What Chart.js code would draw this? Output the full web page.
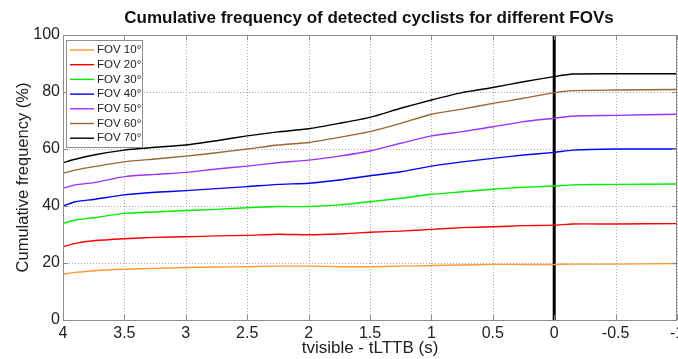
<!DOCTYPE html>
<html>
<head>
<meta charset="utf-8">
<script src="https://cdn.jsdelivr.net/npm/chart.js@4"></script>
<style>
	html, body { margin: 0; padding: 0; background: #fff; }
	#wrap { width: 678px; height: 359px; }
</style>
</head>
<body>
<div id="wrap"><canvas id="fovChart" width="678" height="359"></canvas></div>
<script>
const timeSteps = [4, 3.9, 3.75, 3.5, 3.25, 3, 2.75, 2.5, 2.25, 2, 1.75, 1.5, 1.25, 1, 0.75, 0.5, 0.25, 0, -0.15, -0.5, -1];

const fov10 = [16.1, 16.7, 17.3, 17.8, 18.1, 18.4, 18.6, 18.7, 18.9, 18.9, 18.7, 18.7, 18.9, 19.1, 19.3, 19.5, 19.5, 19.5, 19.6, 19.6, 19.8];
const fov20 = [25.7, 26.9, 27.8, 28.5, 29.0, 29.2, 29.5, 29.7, 30.1, 29.9, 30.2, 30.8, 31.2, 31.8, 32.4, 32.7, 33.1, 33.3, 33.7, 33.7, 33.8];
const fov30 = [33.9, 35.1, 35.9, 37.4, 37.9, 38.4, 38.8, 39.4, 39.8, 39.8, 40.4, 41.5, 42.7, 44.1, 45.0, 45.9, 46.6, 47.0, 47.4, 47.6, 47.7];
const fov40 = [40.0, 41.5, 42.3, 43.9, 44.8, 45.4, 46.1, 46.8, 47.6, 48.0, 49.1, 50.6, 52.0, 54.0, 55.5, 56.7, 57.9, 58.8, 59.6, 60.0, 60.0];
const fov50 = [46.2, 47.4, 48.2, 50.3, 51.1, 51.8, 53.0, 54.0, 55.2, 56.1, 57.5, 59.3, 62.0, 64.6, 66.1, 67.8, 69.6, 70.8, 71.6, 71.8, 72.2];
const fov60 = [51.5, 52.6, 53.8, 55.5, 56.5, 57.5, 58.7, 60.0, 61.4, 62.3, 64.1, 66.1, 69.0, 72.2, 74.0, 76.0, 77.8, 79.8, 80.5, 80.7, 80.9];
const fov70 = [55.2, 56.4, 57.9, 59.6, 60.6, 61.4, 62.9, 64.6, 66.0, 67.1, 69.0, 71.1, 74.3, 77.2, 79.8, 81.6, 83.6, 85.4, 86.3, 86.4, 86.4];

const seriesLabels = ["FOV 10°", "FOV 20°", "FOV 30°", "FOV 40°", "FOV 50°", "FOV 60°", "FOV 70°"];
const seriesColors = ["#ff9933", "#ff0000", "#00ee00", "#0000ff", "#9933ff", "#996633", "#000000"];
const seriesValues = [fov10, fov20, fov30, fov40, fov50, fov60, fov70];

const markerX = [0, 0];
const markerY = [0, 100];

const xTicks = [4, 3.5, 3, 2.5, 2, 1.5, 1, 0.5, 0, -0.5, -1];
const yTicks = [0, 20, 40, 60, 80, 100];

const FONT = "'Liberation Sans', Arial, sans-serif";

const datasets = seriesValues.map((vals, i) => ({
	label: seriesLabels[i],
	data: timeSteps.map((t, j) => ({ x: t, y: vals[j] })),
	borderColor: seriesColors[i],
	borderWidth: 1.4,
	pointRadius: 0,
	tension: 0.2,
	fill: false,
}));

datasets.push({
	label: "t0",
	data: markerX.map((x, j) => ({ x: x, y: markerY[j] })),
	borderColor: "#000000",
	borderWidth: 3,
	pointRadius: 0,
});

// dotted grid, MATLAB style
const gridPlugin = {
	id: "dotGrid",
	beforeDatasetsDraw(chart) {
		const { ctx, chartArea: a, scales } = chart;
		ctx.save();
		ctx.strokeStyle = "#a8a8a8";
		ctx.lineWidth = 1;
		ctx.setLineDash([1, 2]);
		ctx.beginPath();
		xTicks.forEach((v) => {
			const px = Math.round(scales.x.getPixelForValue(v)) + 0.5;
			ctx.moveTo(px, a.top);
			ctx.lineTo(px, a.bottom);
		});
		yTicks.forEach((v) => {
			const py = Math.round(scales.y.getPixelForValue(v)) + 0.5;
			ctx.moveTo(a.left, py);
			ctx.lineTo(a.right, py);
		});
		ctx.stroke();
		ctx.restore();
	},
};

// frame, inward ticks and the legend box
const framePlugin = {
	id: "frame",
	afterDatasetsDraw(chart) {
		const { ctx, chartArea: a, scales } = chart;
		ctx.save();
		ctx.strokeStyle = "#8c8c8c";
		ctx.lineWidth = 1;
		ctx.strokeRect(a.left + 0.5, a.top + 0.5, a.right - a.left - 1, a.bottom - a.top);

		ctx.beginPath();
		xTicks.forEach((v) => {
			const px = Math.round(scales.x.getPixelForValue(v)) + 0.5;
			ctx.moveTo(px, a.top);
			ctx.lineTo(px, a.top + 5);
			ctx.moveTo(px, a.bottom);
			ctx.lineTo(px, a.bottom - 5);
		});
		yTicks.forEach((v) => {
			const py = Math.round(scales.y.getPixelForValue(v)) + 0.5;
			ctx.moveTo(a.left, py);
			ctx.lineTo(a.left + 5, py);
			ctx.moveTo(a.right, py);
			ctx.lineTo(a.right - 5, py);
		});
		ctx.stroke();

		const bx = 66, by = 40, bw = 76, bh = 107;
		ctx.fillStyle = "#ffffff";
		ctx.fillRect(bx, by, bw, bh);
		ctx.strokeStyle = "#8c8c8c";
		ctx.strokeRect(bx + 0.5, by + 0.5, bw, bh);
		ctx.font = "11.5px " + FONT;
		ctx.textBaseline = "middle";
		seriesLabels.forEach((lab, i) => {
			const y = by + 10 + i * 14.7;
			ctx.strokeStyle = seriesColors[i];
			ctx.lineWidth = 1.4;
			ctx.beginPath();
			ctx.moveTo(70, y);
			ctx.lineTo(94, y);
			ctx.stroke();
			ctx.fillStyle = "#222";
			ctx.fillText(lab, 97, y);
		});
		ctx.restore();
	},
};

const titlePlugin = {
	id: "topTitle",
	afterDraw(chart) {
		const ctx = chart.ctx;
		ctx.save();
		ctx.font = "bold 17px " + FONT;
		ctx.fillStyle = "#111";
		ctx.textAlign = "center";
		ctx.textBaseline = "middle";
		ctx.fillText("Cumulative frequency of detected cyclists for different FOVs", 369, 18);
		ctx.restore();
	},
};

new Chart(document.getElementById("fovChart"), {
	type: "line",
	data: { datasets: datasets },
	plugins: [gridPlugin, framePlugin, titlePlugin],
	options: {
		responsive: false,
		animation: false,
		layout: { padding: { top: 35, right: 1, left: 0, bottom: 0 } },
		plugins: {
			legend: { display: false },
			tooltip: { enabled: false },
		},
		scales: {
			x: {
				type: "linear",
				reverse: true,
				min: -1,
				max: 4,
				afterFit(s) {
					s.height = 39;
					s.paddingRight = 0;
					s.paddingLeft = 0;
				},
				afterBuildTicks(s) { s.ticks = xTicks.map((v) => ({ value: v })); },
				grid: { display: false, drawTicks: false },
				border: { display: false },
				ticks: {
					color: "#222",
					font: { family: FONT, size: 16 },
					padding: 4,
					maxRotation: 0,
					callback: (v) => String(v),
				},
				title: {
					display: true,
					text: "tvisible - tLTTB (s)",
					color: "#222",
					font: { family: FONT, size: 17 },
					padding: { top: 0, bottom: 0 },
				},
			},
			y: {
				min: 0,
				max: 100,
				afterFit(s) { s.width = 63; },
				grid: { display: false, drawTicks: false },
				border: { display: false },
				ticks: {
					stepSize: 20,
					color: "#222",
					font: { family: FONT, size: 16 },
					padding: 3,
				},
				title: {
					display: true,
					text: "Cumulative frequency (%)",
					color: "#222",
					font: { family: FONT, size: 16.5 },
					padding: { top: 14, bottom: 0 },
				},
			},
		},
	},
});
</script>
</body>
</html>
